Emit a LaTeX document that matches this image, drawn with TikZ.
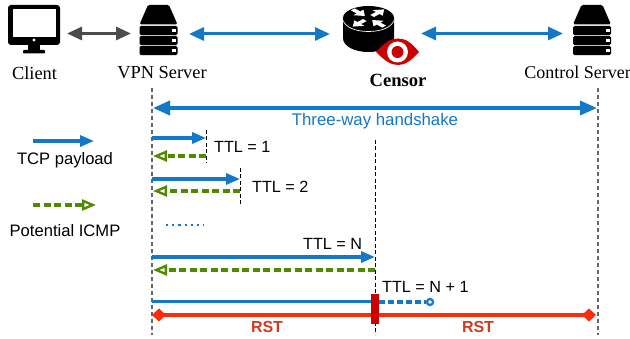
\documentclass[tikz,border=0pt]{standalone}
\usepackage{fontspec}
\setmainfont{Liberation Sans}
\newfontfamily\serifnames{Liberation Serif}
\usetikzlibrary{arrows.meta}
\definecolor{tcpblue}{HTML}{1478C8}
\definecolor{icmpgreen}{HTML}{4F8A00}
\definecolor{rstred}{HTML}{FF2A0A}
\definecolor{barred}{HTML}{CC0000}
\definecolor{rsttext}{HTML}{D03A20}
\tikzset{
  x=1pt,y=-1pt,
  namelabel/.style={font=\fontsize{18.4}{20}\serifnames,text=black,inner sep=0},
  ttl/.style={font=\fontsize{16.2}{18}\selectfont,text=black,inner sep=0},
  legendtext/.style={font=\fontsize{16.6}{18}\selectfont,text=black,inner sep=0},
  rsttag/.style={font=\fontsize{16}{18}\bfseries\selectfont,text=rsttext,inner sep=0},
  lifeline/.style={draw=black!60,line width=1.2pt,dash pattern=on 4pt off 3pt},
  stepline/.style={draw=black,line width=1pt,dash pattern=on 4pt off 2.5pt},
  gray arrow/.style={draw=black!70,line width=3pt,{Triangle[length=15pt,width=13pt]}-{Triangle[length=15pt,width=13pt]}},
  blue both/.style={draw=tcpblue,line width=3pt,{Triangle[length=15pt,width=13pt]}-{Triangle[length=15pt,width=13pt]}},
  tcp/.style={draw=tcpblue,line width=3.1pt,-{Triangle[length=14pt,width=11pt]}},
  icmp/.style={draw=icmpgreen,line width=3.1pt,dash pattern=on 7pt off 3.5pt,-{Triangle[open,length=14pt,width=11pt,line width=2.4pt]}},
  rstline/.style={draw=rstred,line width=3.1pt,{Diamond[length=14pt,width=13pt]}-{Diamond[length=14pt,width=13pt]}},
  barshape/.style={fill=barred,minimum width=8pt,minimum height=30pt,inner sep=0},
  pics/servericon/.style={code={
    \fill[black,rounded corners=1.5pt] (-10.5,0) -- (10.5,0) -- (19,19.5) -- (-19,19.5) -- cycle;
    \foreach \yy in {21,31,41}{
      \fill[black,rounded corners=1.5pt] (-19,\yy) rectangle (19,\yy+9.2);
      \fill[white] (13.5,\yy+3.4) rectangle (17.5,\yy+6);
    }
  }}
}
\begin{document}
\begin{tikzpicture}
\useasboundingbox (0,0) rectangle (630,339);
\fill[white] (0,0) rectangle (630,339);
% icons
\fill[black,rounded corners=3pt] (8,5) rectangle (60,45);
\fill[white] (13,9.5) rectangle (55.5,37);
\fill[white] (34,40) circle (1.6);
\fill[black] (28,45) rectangle (40,50);
\fill[black,rounded corners=.8pt] (23,50) rectangle (45,53.5);
\pic at (158.5,5) {servericon};
\pic at (592,5) {servericon};
% router
\fill[black] (343,18) -- (343,38) .. controls (343,46) and (354,52) .. (368.5,52) .. controls (383,52) and (394,46) .. (394,38) -- (394,18) -- cycle;
\draw[white,line width=.7pt] (343,20) .. controls (345,27) and (355,31.5) .. (368.5,31.5) .. controls (382,31.5) and (392,27) .. (394,20);
\fill[black] (368.5,18) ellipse[x radius=25.5,y radius=12];
\begin{scope}[shift={(368.5,18)},yscale=.55,scale=1.3]
  \foreach \a in {45,225}{
    \fill[white,rotate=\a] (17,0) -- (10,-5.5) -- (10,-2) -- (4,-2) -- (4,2) -- (10,2) -- (10,5.5) -- cycle;
  }
  \foreach \a in {135,315}{
    \fill[white,rotate=\a] (4,0) -- (11,-5.5) -- (11,-2) -- (17,-2) -- (17,2) -- (11,2) -- (11,5.5) -- cycle;
  }
\end{scope}
% eye
\fill[barred] (376,52) .. controls (385,42) and (391,38.5) .. (398,38.5) .. controls (405,38.5) and (411,42) .. (419,52) .. controls (411,61) and (405,65) .. (398,65) .. controls (391,65) and (385,61) .. (376,52) -- cycle;
\fill[white] (397.5,52) circle (10.5);
\fill[barred] (397.5,52) circle (6);
% labels
\node[namelabel] (client) at (34.5,73) {Client};
\node[namelabel] (vpn) at (162,73) {VPN Server};
\node[namelabel,font=\fontsize{18}{20}\serifnames] (ctrl) at (577.5,72.5) {Control Server};
\node[namelabel,font=\fontsize{18.6}{20}\serifnames\bfseries] (censor) at (398,80) {Censor};
% anchors of the top row
\coordinate (clientR) at (67,33.5);
\coordinate (vpnL) at (131,33.5);
\coordinate (vpnR) at (189,34);
\coordinate (routerL) at (330,34);
\coordinate (routerR) at (421,33.5);
\coordinate (ctrlL) at (563,33.5);
\draw[gray arrow] (clientR) -- (vpnL);
\draw[blue both] (vpnR) -- (routerL);
\draw[blue both] (routerR) -- (ctrlL);
% lifelines
\coordinate (vT) at (152,88); \coordinate (vB) at (152,335);
\coordinate (cT) at (598,88); \coordinate (cB) at (598,335);
\coordinate (mT) at (375,140); \coordinate (mB) at (375,335);
\draw[lifeline] (vT) -- (vB);
\draw[lifeline] (cT) -- (cB);
\draw[stepline] (mT) -- (mB);
\coordinate (h1T) at (206,130); \coordinate (h1B) at (206,163);
\coordinate (h2T) at (240,168); \coordinate (h2B) at (240,205);
\draw[stepline] (h1T) -- (h1B);
\draw[stepline] (h2T) -- (h2B);
% handshake
\coordinate (hsL) at (153,108); \coordinate (hsR) at (597,108);
\draw[draw=tcpblue,line width=3.6pt,{Triangle[length=17pt,width=14pt]}-{Triangle[length=17pt,width=14pt]}] (hsL) -- (hsR);
\node[font=\fontsize{16.8}{18}\selectfont,text=tcpblue,inner sep=0] (hs) at (375,121) {Three-way handshake};
% legend
\coordinate (lg1a) at (33,141); \coordinate (lg1b) at (94,141);
\draw[tcp] (lg1a) -- (lg1b);
\node[legendtext] (lgt1) at (65,160) {TCP payload};
\coordinate (lg2a) at (33,205); \coordinate (lg2b) at (96,205);
\draw[icmp] (lg2a) -- (lg2b);
\node[legendtext] (lgt2) at (65,231) {Potential ICMP};
% probes
\coordinate (a1) at (152,138); \coordinate (b1) at (206,138);
\draw[tcp] (a1) -- (b1);
\coordinate (c1) at (206,156); \coordinate (d1) at (153,156);
\draw[icmp] (c1) -- (d1);
\node[ttl,anchor=west] (t1) at (214,147) {TTL = 1};
\coordinate (a2) at (152,179); \coordinate (b2) at (240,179);
\draw[tcp] (a2) -- (b2);
\coordinate (c2) at (240,191); \coordinate (d2) at (153,191);
\draw[icmp] (c2) -- (d2);
\node[ttl,anchor=west] (t2) at (252,187) {TTL = 2};
\coordinate (dotsL) at (166,225); \coordinate (dotsR) at (204,225);
\draw[draw=tcpblue,line width=2.1pt,dash pattern=on 2.2pt off 4pt] (dotsL) -- (dotsR);
\node[ttl,anchor=west] (tn) at (303,244) {TTL = N};
\coordinate (an) at (152,257); \coordinate (bn) at (375,257);
\draw[tcp] (an) -- (bn);
\coordinate (cn) at (375,270); \coordinate (dn) at (153,270);
\draw[icmp] (cn) -- (dn);
\node[ttl,anchor=west] (tn1) at (382,287) {TTL = N + 1};
% blocked probe and reset
\coordinate (rL) at (152,315); \coordinate (rR) at (596,315);
\draw[rstline] (rL) -- (rR);
\node[barshape] (bar) at (375,309) {};
\coordinate (pa) at (152,301.5);
\coordinate (pc) at (430,302);
\draw[draw=tcpblue,line width=3.1pt] (pa) -- (bar.west |- pa);
\draw[draw=tcpblue,line width=3.1pt,dash pattern=on 6pt off 3pt] (bar.east |- pc) -- (426,302);
\draw[draw=tcpblue,line width=2.2pt,fill=white] (pc) circle (3);
\node[rsttag] (r1) at (267,327) {RST};
\node[rsttag] (r2) at (478,327) {RST};
\end{tikzpicture}
\end{document}
